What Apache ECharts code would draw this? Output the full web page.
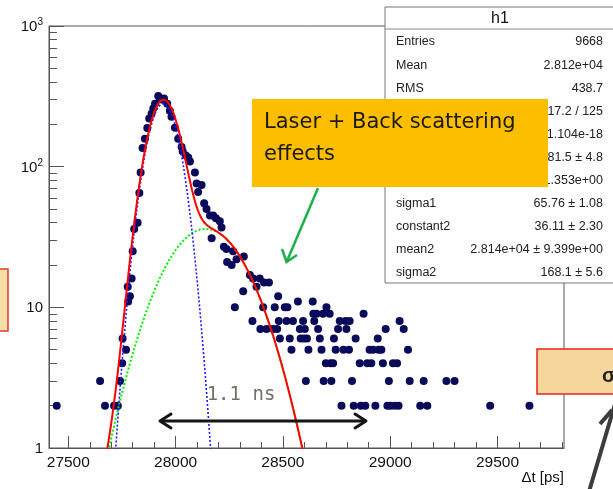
<!DOCTYPE html>
<html>
<head>
<meta charset="utf-8">
<script src="https://cdn.jsdelivr.net/npm/echarts@6/dist/echarts.min.js"></script>
<style>
  html, body { margin: 0; padding: 0; background: #fff; }
  #chart { width: 613px; height: 489px; }
</style>
</head>
<body>
<div id="chart"></div>
<script>
// Histogram h1: time difference (ps) of each filled bin and its content
const dtValues = [
  27446, 27648, 27671, 27713, 27731, 27741, 27751, 27753, 27769, 27777,
  27779, 27787, 27795, 27800, 27807, 27823, 27831, 27837, 27846, 27857,
  27868, 27877, 27888, 27896, 27904, 27919, 27927, 27936, 27946, 27961,
  27973, 27981, 27997, 28012, 28028, 28033, 28048, 28059, 28067, 28090,
  28098, 28105, 28121, 28133, 28144, 28160, 28168, 28175, 28188, 28206,
  28214, 28225, 28237, 28240, 28261, 28268, 28276, 28284, 28315, 28318,
  28346, 28358, 28361, 28377, 28392, 28395, 28408, 28412, 28424, 28435,
  28454, 28462, 28473, 28478, 28481, 28486, 28509, 28517, 28521, 28532,
  28540, 28547, 28570, 28579, 28583, 28594, 28598, 28602, 28607, 28612,
  28619, 28639, 28642, 28646, 28657, 28664, 28672, 28680, 28687, 28690,
  28700, 28703, 28718, 28722, 28726, 28734, 28738, 28746, 28757, 28765,
  28773, 28782, 28792, 28796, 28808, 28811, 28822, 28830, 28839, 28858,
  28863, 28876, 28884, 28893, 28904, 28912, 28920, 28931, 28942, 28946,
  28959, 28966, 28979, 28987, 28994, 29001, 29013, 29021, 29032, 29039,
  29044, 29063, 29083, 29091, 29140, 29156, 29173, 29262, 29300, 29466,
  29649
];
const counts = [
  2, 3, 2, 2, 2, 3, 4, 6, 5, 14,
  11, 12, 16, 25, 36, 40, 65, 91, 136, 158,
  188, 220, 238, 259, 280, 318, 305, 300, 305, 280,
  250, 226, 189, 158, 138, 128, 120, 116, 109, 91,
  76, 66, 74, 55, 50, 45, 31, 45, 43, 41,
  37, 27, 26, 21, 20, 25, 10, 22, 13, 23,
  17, 8, 16, 14, 16, 7, 10, 15, 7, 15,
  7, 10, 7, 12, 8, 6, 10, 8, 10, 6,
  5, 8, 11, 7, 6, 8, 6, 7, 3, 6,
  5, 11, 9, 8, 9, 7, 6, 5, 9, 3,
  4, 10, 9, 4, 3, 4, 6, 5, 7, 8,
  2, 5, 8, 7, 5, 8, 3, 2, 6, 4,
  2, 9, 2, 4, 5, 4, 5, 2, 6, 5,
  5, 4, 7, 2, 3, 2, 4, 2, 4, 2,
  8, 7, 5, 3, 2, 3, 2, 3, 3, 2,
  2
];

// Double gaussian fit: [component 1 (laser), component 2 (back scattering)]
const gausConstant = [281.5, 36.11];
const gausMean = [27942, 28140];
const gausSigma = [65.76, 168.1];
const fitRange = [27560, 28760];

// Axis ticks
const xAxisRange = [27410, 29810];
const xTickLabels = [27500, 28000, 28500, 29000, 29500];
const yTickLabels = ['1', '10', '10^2', '10^3'];

// Statistics box rows
const statNames = ['Entries', 'Mean', 'RMS', 'χ² / ndf', 'Prob', 'constant1', 'mean1',
                   'sigma1', 'constant2', 'mean2', 'sigma2'];
const statValues = ['9668', '2.812e+04', '438.7', '317.2 / 125', '1.104e-18', '281.5 ± 4.8',
                    '2.794e+04 ± 1.353e+00', '65.76 ± 1.08', '36.11 ± 2.30',
                    '2.814e+04 ± 9.399e+00', '168.1 ± 5.6'];

const FONT = 'Liberation Sans';

function gaus(i, t) {
  const z = (t - gausMean[i]) / gausSigma[i];
  return gausConstant[i] * Math.exp(-0.5 * z * z);
}

const curve1 = [], curve2 = [], curveSum = [];
for (let t = fitRange[0]; t <= fitRange[1]; t += 3) {
  const a = gaus(0, t), b = gaus(1, t);
  if (a > 0.05) curve1.push([t, a]);
  if (b > 0.05) curve2.push([t, b]);
  curveSum.push([t, a + b]);
}

const points = dtValues.map((t, i) => [t, counts[i]]);

// minor tick positions
const xMinor = [];
for (let t = 27500; t <= 29800; t += 100) if (t % 500 !== 0) xMinor.push(t);
const yMinor = [];
for (let d = 0; d < 3; d++) for (let k = 2; k <= 9; k++) yMinor.push(d + Math.log10(k));

const axisColor = '#555';

// stats box graphics
const statBox = { left: 385, top: 7, right: 616, bottom: 283, titleBottom: 29 };
const statElems = [
  { type: 'rect', shape: { x: statBox.left, y: statBox.top, width: statBox.right - statBox.left, height: statBox.bottom - statBox.top },
    style: { fill: '#fff', stroke: '#777', lineWidth: 1 }, z: 50 },
  { type: 'line', shape: { x1: statBox.left, y1: statBox.titleBottom, x2: statBox.right, y2: statBox.titleBottom },
    style: { stroke: '#888', lineWidth: 1 }, z: 51 },
  { type: 'text', x: 500, y: 19, style: { text: 'h1', font: '16px "' + FONT + '"', fill: '#111', align: 'center', verticalAlign: 'middle' }, z: 51 }
];
statNames.forEach((n, i) => {
  const y = 42 + i * 23.1;
  statElems.push({ type: 'text', x: 396, y: y, z: 51,
    style: { text: n, font: '12.5px "' + FONT + '"', fill: '#222', align: 'left', verticalAlign: 'middle' } });
  statElems.push({ type: 'text', x: 603, y: y, z: 51,
    style: { text: statValues[i], font: '12.5px "' + FONT + '"', fill: '#222', align: 'right', verticalAlign: 'middle' } });
});

const annotations = [
  // laser + back scattering label
  { type: 'rect', shape: { x: 252, y: 99, width: 296, height: 88 }, style: { fill: '#FDBE00' }, z: 60 },
  { type: 'text', x: 264, y: 123, z: 61,
    style: { text: 'Laser + Back scattering', font: '21px "DejaVu Sans"', fill: '#1a1a1a', verticalAlign: 'middle' } },
  { type: 'text', x: 264, y: 155, z: 61,
    style: { text: 'effects', font: '21px "DejaVu Sans"', fill: '#1a1a1a', verticalAlign: 'middle' } },
  // green pointer
  { type: 'line', shape: { x1: 318, y1: 188, x2: 287, y2: 261 }, style: { stroke: '#1DAF4C', lineWidth: 2.5 }, z: 60 },
  { type: 'polyline', shape: { points: [[282, 249], [286.5, 262], [297, 255]] },
    style: { stroke: '#1DAF4C', lineWidth: 2.5, fill: null, lineJoin: 'miter' }, z: 60 },
  // width marker
  { type: 'text', x: 241, y: 395, z: 60,
    style: { text: '1.1 ns', font: '19px "DejaVu Sans Mono"', fill: '#747068', align: 'center', verticalAlign: 'middle' } },
  { type: 'line', shape: { x1: 160, y1: 421, x2: 366, y2: 421 }, style: { stroke: '#151515', lineWidth: 3 }, z: 60 },
  { type: 'polyline', shape: { points: [[171, 414], [160, 421], [171, 428]] },
    style: { stroke: '#151515', lineWidth: 3, fill: null, lineCap: 'round', lineJoin: 'round' }, z: 60 },
  { type: 'polyline', shape: { points: [[355, 414], [366, 421], [355, 428]] },
    style: { stroke: '#151515', lineWidth: 3, fill: null, lineCap: 'round', lineJoin: 'round' }, z: 60 },
  // axis title
  { type: 'text', x: 564, y: 478, z: 60,
    style: { text: 'Δt [ps]', font: '15px "' + FONT + '"', fill: '#111', align: 'right', verticalAlign: 'middle' } },
  // side labels
  { type: 'rect', shape: { x: -4, y: 269, width: 12, height: 62 },
    style: { fill: '#F4DDA6', stroke: '#E23A2E', lineWidth: 1.5 }, z: 60 },
  { type: 'rect', shape: { x: 537, y: 349, width: 80, height: 45 },
    style: { fill: '#F6D79B', stroke: '#E8231E', lineWidth: 1.5 }, z: 60 },
  { type: 'text', x: 602, y: 376, z: 61,
    style: { text: 'σ', font: 'bold 20px "' + FONT + '"', fill: '#222', align: 'left', verticalAlign: 'middle' } },
  { type: 'line', shape: { x1: 588, y1: 495, x2: 615, y2: 404 }, style: { stroke: '#3c3c3c', lineWidth: 4 }, z: 60 },
  { type: 'line', shape: { x1: 612, y1: 410, x2: 600, y2: 424 }, style: { stroke: '#3c3c3c', lineWidth: 4 }, z: 60 }
];

const chart = echarts.init(document.getElementById('chart'), null, { renderer: 'canvas' });
chart.setOption({
  animation: false,
  backgroundColor: '#fff',
  grid: { left: 49, right: 49, top: 26, bottom: 41, show: true, borderColor: axisColor, borderWidth: 1, backgroundColor: 'transparent' },
  xAxis: [{
    type: 'value', min: xAxisRange[0], max: xAxisRange[1], position: 'bottom',
    axisLine: { show: true, lineStyle: { color: axisColor, width: 1 } },
    axisTick: { show: true, inside: true, length: 12, customValues: xTickLabels, lineStyle: { color: axisColor } },
    axisLabel: { customValues: xTickLabels, margin: 7, fontSize: 15.5, fontFamily: FONT, color: '#111', formatter: v => String(v) },
    splitLine: { show: false }
  }, {
    type: 'value', min: xAxisRange[0], max: xAxisRange[1], position: 'bottom',
    axisLine: { show: false }, axisLabel: { show: false }, splitLine: { show: false },
    axisTick: { show: true, inside: true, length: 6, customValues: xMinor, lineStyle: { color: axisColor } }
  }],
  yAxis: [{
    type: 'log', logBase: 10, min: 1, max: 1000, position: 'left',
    axisLine: { show: true, lineStyle: { color: axisColor, width: 1 } },
    axisTick: { show: true, inside: true, length: 15, lineStyle: { color: axisColor } },
    axisLabel: {
      margin: 6,
      formatter: v => {
        const lbl = yTickLabels[Math.round(Math.log10(v))];
        const parts = lbl.split('^');
        return parts.length > 1 ? '{n|' + parts[0] + '}{s|' + parts[1] + '}' : '{n|' + lbl + '}';
      },
      rich: {
        n: { fontSize: 15, fontFamily: FONT, color: '#111', lineHeight: 17, verticalAlign: 'bottom' },
        s: { fontSize: 10, fontFamily: FONT, color: '#111', lineHeight: 10, verticalAlign: 'top' }
      }
    },
    splitLine: { show: false }
  }, {
    type: 'value', min: 0, max: 3, position: 'left',
    axisLine: { show: false }, axisLabel: { show: false }, splitLine: { show: false },
    axisTick: { show: true, inside: true, length: 8, customValues: yMinor, lineStyle: { color: axisColor } }
  }],
  series: [{
    name: 'h1', type: 'scatter', xAxisIndex: 0, yAxisIndex: 0, data: points,
    symbol: 'circle', symbolSize: 8, itemStyle: { color: '#0a0a5a', opacity: 1 }, z: 2
  }, {
    name: 'gaus2', type: 'line', xAxisIndex: 0, yAxisIndex: 0, data: curve2,
    showSymbol: false, symbol: 'none', lineStyle: { color: '#00ee00', width: 2, type: [2, 2] }, z: 3
  }, {
    name: 'gaus1', type: 'line', xAxisIndex: 0, yAxisIndex: 0, data: curve1,
    showSymbol: false, symbol: 'none', lineStyle: { color: '#1a1aff', width: 1.6, type: [2, 2] }, z: 4
  }, {
    name: 'fit', type: 'line', xAxisIndex: 0, yAxisIndex: 0, data: curveSum,
    showSymbol: false, symbol: 'none', lineStyle: { color: '#ff0000', width: 2 }, z: 5
  }],
  graphic: { elements: statElems.concat(annotations) }
});
</script>
</body>
</html>
